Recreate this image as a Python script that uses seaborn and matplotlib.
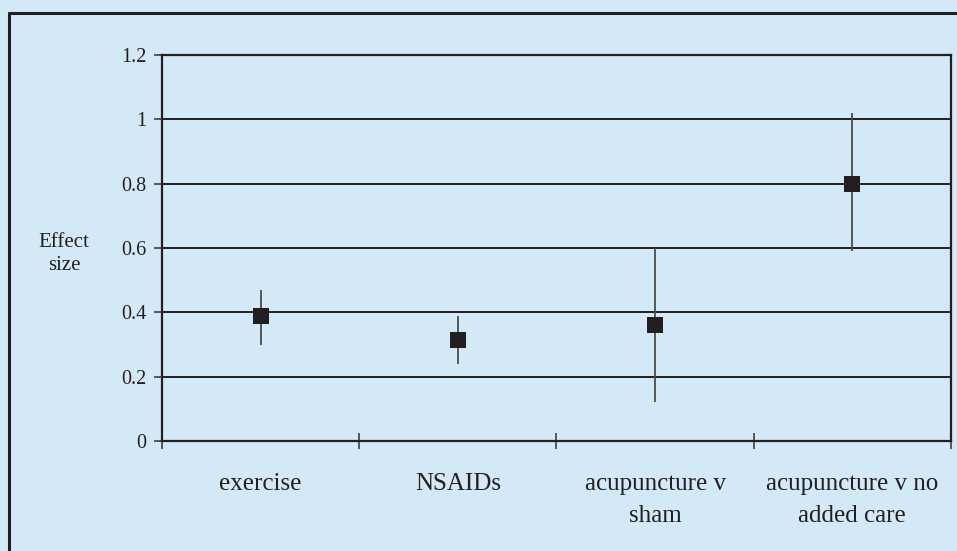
import pandas as pd
import matplotlib.pyplot as plt
import seaborn as sns
from matplotlib.lines import Line2D

# Data
categories = ['exercise', 'NSAIDs', 'acupuncture v\nsham', 'acupuncture v no\nadded care']
effect = [0.39, 0.315, 0.36, 0.80]
lower = [0.30, 0.24, 0.12, 0.59]
upper = [0.47, 0.39, 0.60, 1.02]
y_ticks = [0, 0.2, 0.4, 0.6, 0.8, 1, 1.2]
y_tick_labels = ['0', '0.2', '0.4', '0.6', '0.8', '1', '1.2']

df = pd.DataFrame({'category': categories, 'effect': effect,
                   'lower': lower, 'upper': upper})

bg = '#d4e9f7'
ink = '#231f20'

sns.set_theme(style='white')
plt.rcParams['font.family'] = ['Liberation Serif', 'DejaVu Serif']

fig = plt.figure(figsize=(9.57, 5.51), dpi=100, facecolor=bg)
ax = fig.add_axes([0.1693, 0.1996, 0.8244, 0.7006])
ax.set_facecolor(bg)

x = range(len(categories))

# Error bars (no caps)
ax.vlines(x, df['lower'], df['upper'], color='#4a4a4a', linewidth=1.3, zorder=3)

# Square markers
sns.scatterplot(x=list(x), y=df['effect'], marker='s', s=120, color=ink,
                edgecolor=ink, linewidth=0, ax=ax, zorder=4, legend=False)

# Axes limits and ticks
ax.set_xlim(-0.5, len(categories) - 0.5)
ax.set_ylim(0, 1.2)
ax.set_yticks(y_ticks)
ax.set_yticklabels(y_tick_labels)
ax.set_xticks(list(x))
ax.set_xticklabels(categories, linespacing=1.58)
ax.set_xticks([i - 0.5 for i in range(len(categories) + 1)], minor=True)

ax.tick_params(axis='y', which='major', direction='out', length=6, width=1.3,
               color='#4a4a4a', labelsize=14.5, labelcolor=ink, pad=5, left=True)
ax.tick_params(axis='x', which='major', length=0, labelsize=18, labelcolor=ink, pad=23)
ax.tick_params(axis='x', which='minor', direction='inout', length=12, width=1.3,
               color='#4a4a4a', bottom=True)

# Horizontal gridlines
ax.yaxis.grid(True, color=ink, linewidth=1.4)
ax.xaxis.grid(False)
ax.set_axisbelow(True)

for side in ['left', 'right', 'top', 'bottom']:
    ax.spines[side].set_visible(True)
    ax.spines[side].set_color(ink)
    ax.spines[side].set_linewidth(1.6)

ax.set_xlabel('')
ax.set_ylabel('')

# Y label as free text
fig.text(64 / 957, 1 - 254 / 551, 'Effect\nsize', ha='center', va='center',
         fontsize=15, color=ink, linespacing=1.25)

# Outer frame (left and top edges visible)
fig.add_artist(Line2D([9 / 957, 9 / 957], [0, 1 - 13 / 551], color=ink, linewidth=2.2))
fig.add_artist(Line2D([9 / 957, 1], [1 - 13 / 551, 1 - 13 / 551], color=ink, linewidth=2.2))

fig.savefig('out.png', dpi=100, facecolor=bg)
